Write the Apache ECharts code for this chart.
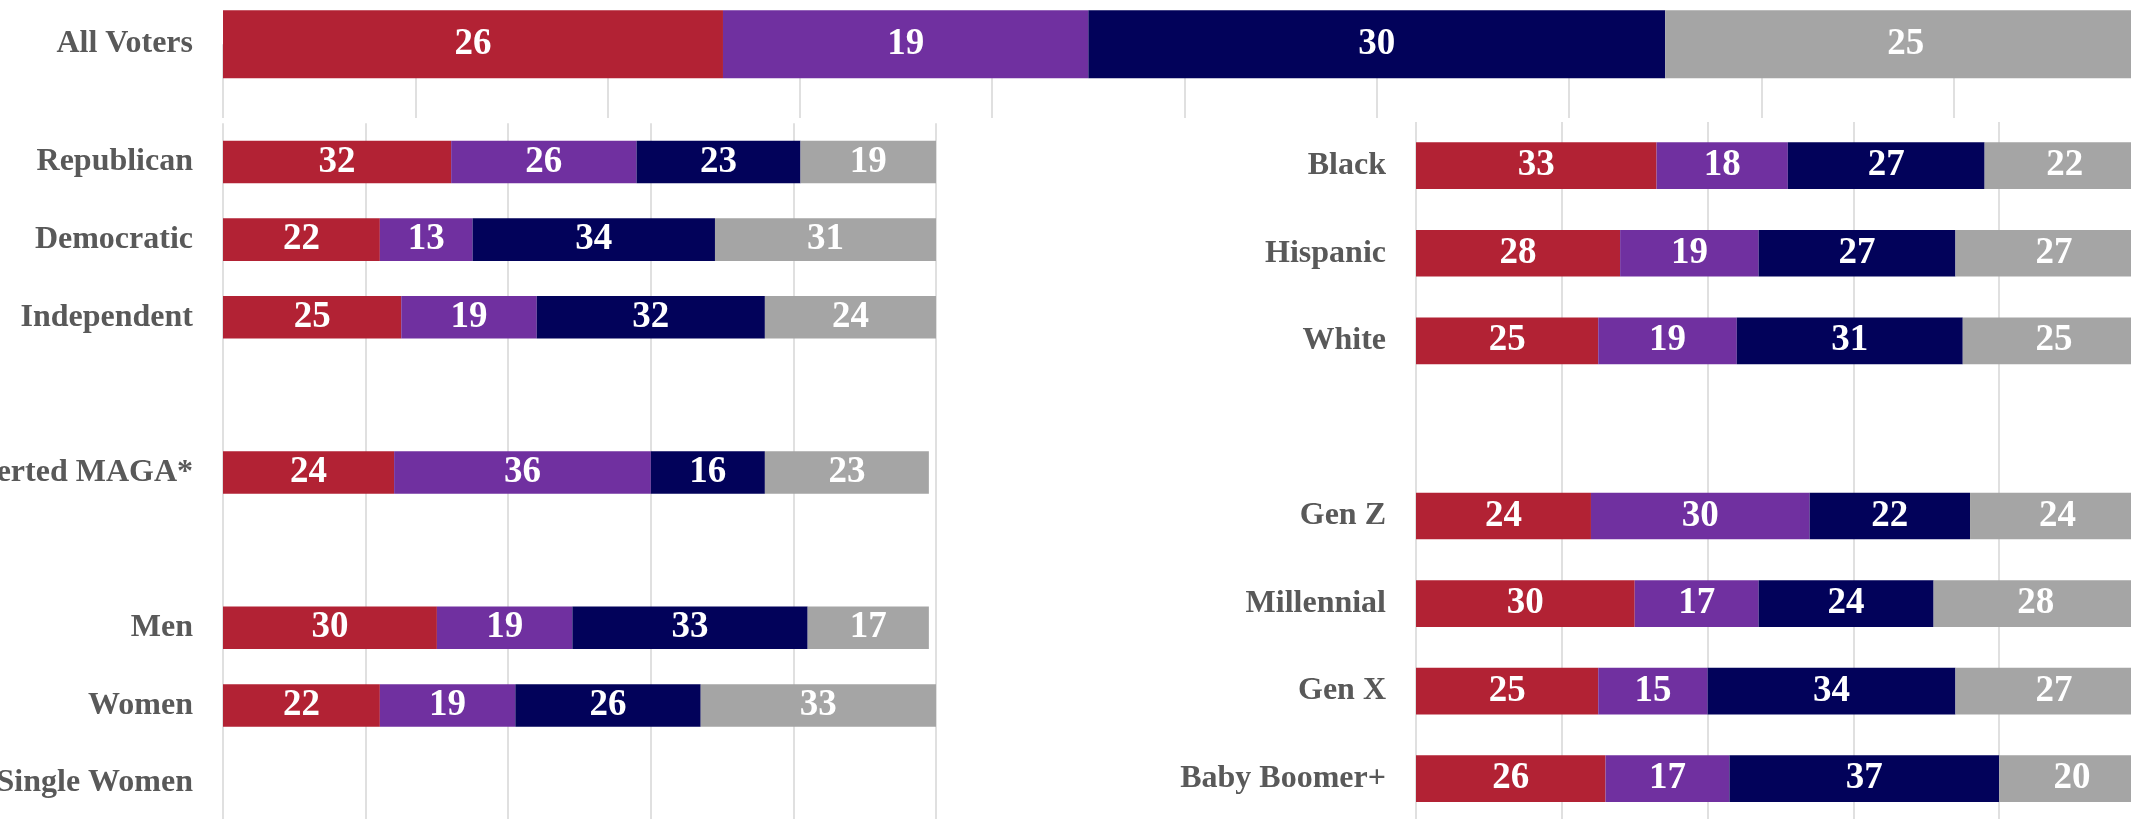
<!DOCTYPE html>
<html>
<head>
<meta charset="utf-8">
<script src="https://cdn.jsdelivr.net/npm/echarts@6/dist/echarts.min.js"></script>
<style>
  html, body { margin: 0; padding: 0; background: #ffffff; }
  #chart { width: 2131px; height: 819px; }
</style>
</head>
<body>
<div id="chart"></div>
<script>
// ---------- data ----------
const seriesNames = ['Group 1', 'Group 2', 'Group 3', 'Group 4'];
const seriesColors = ['#B22234', '#7030A0', '#02025A', '#A5A5A5'];

const topCategories = ['All Voters', ''];
const topRed    = [26];
const topPurple = [19];
const topNavy   = [30];
const topGray   = [25];

const leftCategories = ['Republican', 'Democratic', 'Independent', '', 'Converted MAGA*', '', 'Men', 'Women', 'Single Women'];
const leftRed    = [32, 22, 25, null, 24, null, 30, 22, null];
const leftPurple = [26, 13, 19, null, 36, null, 19, 19, null];
const leftNavy   = [23, 34, 32, null, 16, null, 33, 26, null];
const leftGray   = [19, 31, 24, null, 23, null, 17, 33, null];

const rightCategories = ['Black', 'Hispanic', 'White', '', 'Gen Z', 'Millennial', 'Gen X', 'Baby Boomer+'];
const rightRed    = [33, 28, 25, null, 24, 30, 25, 26];
const rightPurple = [18, 19, 19, null, 30, 17, 15, 17];
const rightNavy   = [27, 27, 31, null, 22, 24, 34, 37];
const rightGray   = [22, 27, 25, null, 24, 28, 27, 20];

const axisMax = 100;
const topTickStep = 10;
const panelTickStep = 20;

// ---------- chart ----------
const serifFont = '"Liberation Serif", "DejaVu Serif", serif';
const gridLineColor = '#d6d6d6';

function xAxisFor(gridIndex, step) {
  return {
    type: 'value', gridIndex: gridIndex, min: 0, max: axisMax, interval: step,
    axisLine: { show: false }, axisTick: { show: false }, axisLabel: { show: false },
    splitLine: { show: true, lineStyle: { color: gridLineColor, width: 1.5 } }
  };
}
function yAxisFor(gridIndex, cats, boundaryGap) {
  return {
    type: 'category', gridIndex: gridIndex, data: cats, inverse: true, boundaryGap: boundaryGap,
    axisLine: { show: false }, axisTick: { show: false }, splitLine: { show: false },
    axisLabel: {
      interval: 0, margin: 30, color: '#595959', fontFamily: serifFont,
      fontWeight: 'bold', fontSize: 32, hideOverlap: false
    }
  };
}
function stackSeries(idx, groups, barWidth, stackName) {
  return groups.map((arr, i) => ({
    type: 'bar', name: seriesNames[i], stack: stackName,
    xAxisIndex: idx, yAxisIndex: idx, data: arr, barWidth: barWidth, clip: false,
    itemStyle: { color: seriesColors[i] },
    label: {
      show: true, position: 'inside', color: '#ffffff', fontFamily: serifFont,
      fontWeight: 'bold', fontSize: 37
    },
    emphasis: { disabled: true }
  }));
}

const gridBase = { containLabel: false, outerBoundsMode: 'none' };

const chart = echarts.init(document.getElementById('chart'), null, { renderer: 'canvas' });
chart.setOption({
  animation: false,
  backgroundColor: '#ffffff',
  grid: [
    Object.assign({ left: 223, width: 1923, top: 44.2, height: 73.8 }, gridBase),
    Object.assign({ left: 223, width: 713, top: 123.2, height: 698.7 }, gridBase),
    Object.assign({ left: 1416, width: 729, top: 121.9, height: 700.6 }, gridBase)
  ],
  xAxis: [xAxisFor(0, topTickStep), xAxisFor(1, panelTickStep), xAxisFor(2, panelTickStep)],
  yAxis: [yAxisFor(0, topCategories, false), yAxisFor(1, leftCategories, true), yAxisFor(2, rightCategories, true)],
  series: [].concat(
    stackSeries(0, [topRed, topPurple, topNavy, topGray], 68, 'top'),
    stackSeries(1, [leftRed, leftPurple, leftNavy, leftGray], 42.6, 'left'),
    stackSeries(2, [rightRed, rightPurple, rightNavy, rightGray], 46.7, 'right')
  )
});
</script>
</body>
</html>
